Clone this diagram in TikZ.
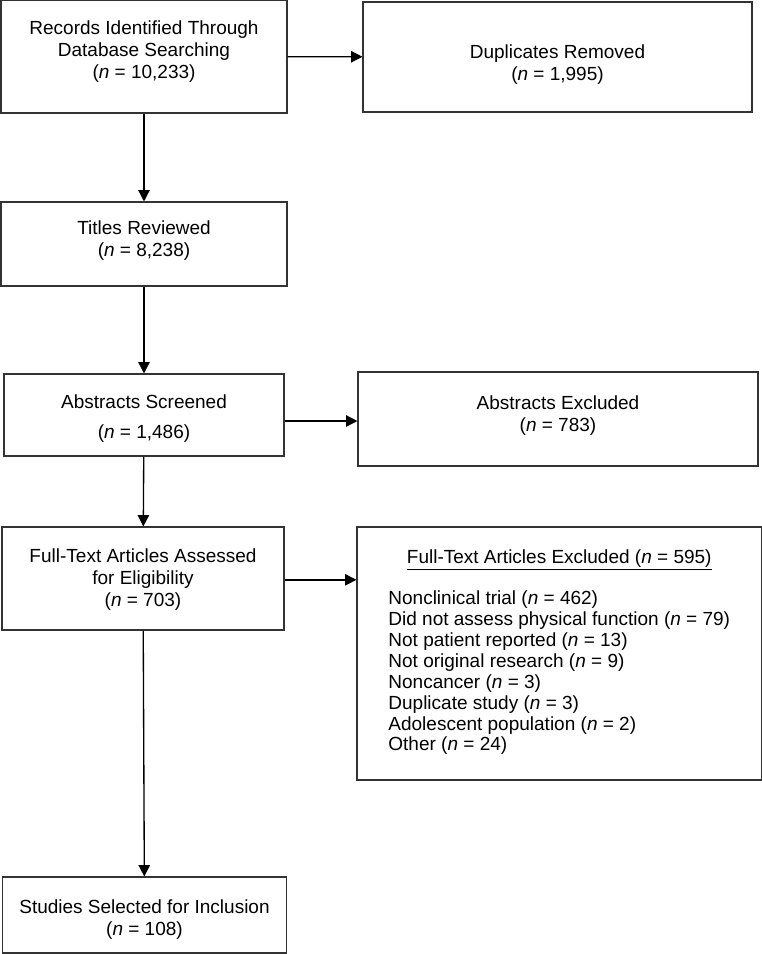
\documentclass[tikz,border=0pt]{standalone}
\usepackage{fontspec}
\setmainfont{Liberation Sans}
\usetikzlibrary{arrows.meta}
\newcommand{\Nval}[1]{(\textit{n} = #1)}

\begin{document}
\begin{tikzpicture}[x=0.75pt, y=-0.75pt,
    box/.style={draw=black!80, line width=0.8pt, inner sep=0pt},
    txt/.style={align=center, inner sep=0pt,
        font=\fontsize{14.25}{16.5}\selectfont},
    flow/.style={-{Triangle[length=8.5pt,width=8.5pt]}, line width=1pt}]
    \useasboundingbox (0,0) rectangle (762,954);
    \node[box, minimum width=214.5pt, minimum height=84.75pt,
        label={[txt, yshift=3.4pt]center:{Records Identified Through\\Database Searching\\\Nval{10,233}}}]
        (rec) at (144, 56.5) {};
    \node[box, minimum width=291.75pt, minimum height=82.5pt,
        label={[txt, yshift=-6pt]center:{Duplicates Removed\\\Nval{1,995}}}]
        (dup) at (557.5, 57) {};
    \node[box, minimum width=214.5pt, minimum height=63pt,
        label={[txt, yshift=2.25pt]center:{Titles Reviewed\\\Nval{8,238}}}]
        (tit) at (144, 244) {};
    \node[box, minimum width=210pt, minimum height=61.5pt,
        label={[txt, yshift=-3pt]center:{Abstracts Screened\\[6pt]\Nval{1,486}}}]
        (abs) at (144, 415) {};
    \node[box, minimum width=300pt, minimum height=70.5pt,
        label={[txt, yshift=2.6pt]center:{Abstracts Excluded\\\Nval{783}}}]
        (absx) at (558, 419) {};
    \node[box, minimum width=211.5pt, minimum height=77.25pt,
        label={[txt, yshift=-1pt]center:{Full-Text Articles Assessed\\for Eligibility\\\Nval{703}}}]
        (fta) at (143, 578.5) {};
    \node[box, minimum width=303.4pt, minimum height=189.75pt,
        label={[txt]center:{\underline{Full-Text Articles Excluded \Nval{595}}\\[13.75pt]
        \fontsize{14.25}{15.7}\selectfont
        \begin{tabular}{@{}l@{}}
            Nonclinical trial \Nval{462}\\
            Did not assess physical function \Nval{79}\\
            Not patient reported \Nval{13}\\
            Not original research \Nval{9}\\
            Noncancer \Nval{3}\\
            Duplicate study \Nval{3}\\
            Adolescent population \Nval{2}\\
            Other \Nval{24}
        \end{tabular}}}]
        (ftx) at (559.25, 653.5) {};
    \node[box, minimum width=213pt, minimum height=57pt,
        label={[txt, yshift=-3.4pt]center:{Studies Selected for Inclusion\\\Nval{108}}}]
        (std) at (144.5, 915) {};

    \draw[flow] (rec) -- (dup);
    \draw[flow] (rec) -- (tit);
    \draw[flow] (tit) -- (abs);
    \draw[flow] ([yshift=-4.5pt]abs.east) -- ([yshift=-4.5pt]abs.east -| absx.west);
    \draw[flow] (abs) -- (fta);
    \draw[flow] ([yshift=-1pt]fta.east) -- ([yshift=-1pt]fta.east -| ftx.west);
    \draw[flow] (fta) -- (std);
\end{tikzpicture}
\end{document}
